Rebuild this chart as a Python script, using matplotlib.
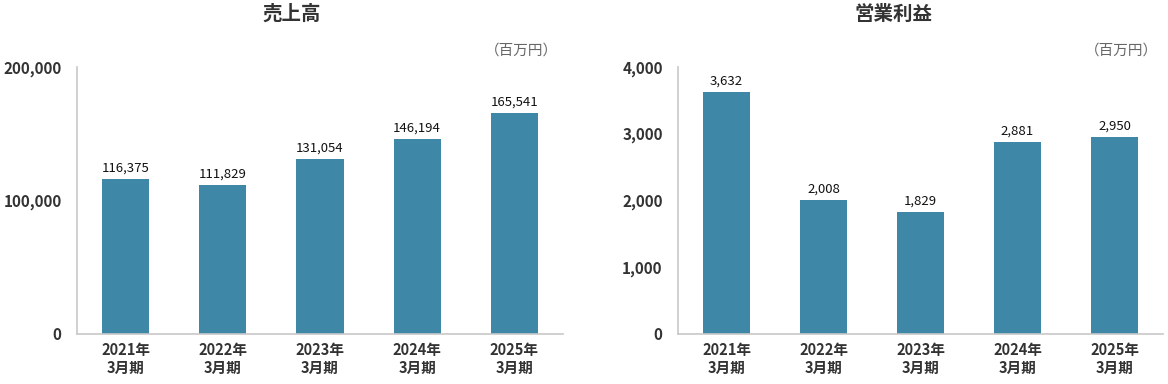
import numpy as np
import matplotlib
matplotlib.use("Agg")
import matplotlib.pyplot as plt

plt.rcParams['font.family'] = ['Noto Sans CJK JP', 'DejaVu Sans']

# data
periods = ["2021年\n3月期", "2022年\n3月期", "2023年\n3月期", "2024年\n3月期", "2025年\n3月期"]
sales = [116375, 111829, 131054, 146194, 165541]
op_income = [3632, 2008, 1829, 2881, 2950]

bar_color = "#3e87a6"
axis_color = "#c8c8c8"

W, H = 1168, 384
fig = plt.figure(figsize=(W / 100, H / 100), dpi=100)


def draw_panel(rect, values, ymax, yticks, title, title_x, unit_x):
    ax = fig.add_axes(rect)
    x = np.arange(len(values))
    ax.bar(x, values, width=0.485, color=bar_color, zorder=2)
    for xi, v in zip(x, values):
        ax.annotate(f"{v:,}", (xi, v), xytext=(0, 3), textcoords="offset points",
                    ha="center", va="bottom", fontsize=9.5, color="#111111")
    ax.set_xlim(-0.5, len(values) - 0.5)
    ax.set_ylim(0, ymax)
    ax.set_yticks(yticks)
    ax.set_yticklabels([f"{t:,}" for t in yticks], fontsize=11, fontweight="bold", color="#333333")
    ax.set_xticks(x)
    ax.set_xticklabels(periods, fontsize=10.5, fontweight="bold", color="#333333", linespacing=1.15)
    ax.tick_params(axis="y", length=0, pad=11)
    ax.tick_params(axis="x", length=0, pad=6)
    for s in ["top", "right"]:
        ax.spines[s].set_visible(False)
    for s in ["left", "bottom"]:
        ax.spines[s].set_color(axis_color)
        ax.spines[s].set_linewidth(1.2)
    fig.text(title_x / W, 1 - 14 / H, title, ha="center", va="center",
             fontsize=14, fontweight="bold", color="#333333")
    fig.text(unit_x / W, 1 - 51 / H, "（百万円）", ha="right", va="center",
             fontsize=10.5, color="#666666")
    return ax


bottom = 50 / H
height = 267 / H
draw_panel([77 / W, bottom, 486 / W, height], sales, 200000, [0, 100000, 200000],
           "売上高", 292, 558)
draw_panel([678 / W, bottom, 485 / W, height], op_income, 4000, [0, 1000, 2000, 3000, 4000],
           "営業利益", 893, 1158)

fig.savefig("out.png", dpi=100)
